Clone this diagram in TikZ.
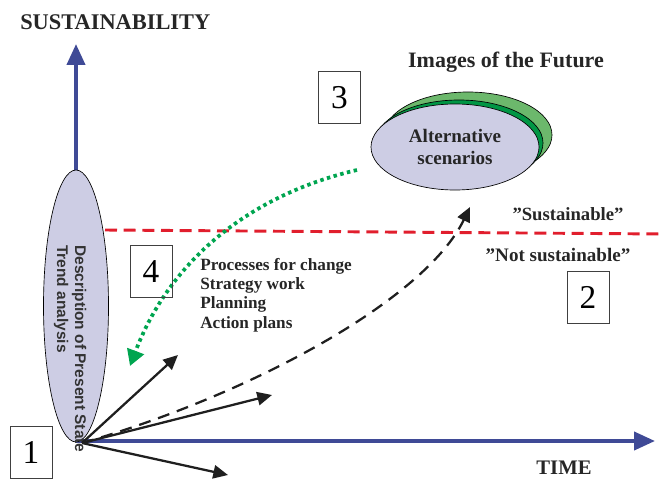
\documentclass[tikz,border=0pt]{standalone}
\usepackage{fontspec}
\setmainfont{Liberation Serif}
\newfontfamily\arialfont{Liberation Sans}
\usetikzlibrary{arrows.meta,shapes.geometric}
\definecolor{axisblue}{RGB}{63,74,150}
\definecolor{lavender}{RGB}{205,205,228}
\definecolor{dotgreen}{RGB}{0,165,80}
\definecolor{darkgreen}{RGB}{0,150,68}
\definecolor{lightgreen}{RGB}{108,184,108}
\definecolor{limitred}{RGB}{225,30,45}
\begin{document}
\begin{tikzpicture}[x=0.75pt,y=-0.75pt,
  numbox/.style={draw=black!75,line width=0.7pt,minimum width=31.5pt,minimum height=39pt,inner sep=0pt,font=\fontsize{25}{25}\selectfont},
  boldlbl/.style={inner sep=0pt,text=black!85,font=\bfseries\fontsize{14.3}{16.5}\selectfont},
  axis/.style={draw=axisblue,line width=3pt,-{Triangle[length=15.75pt,width=13.5pt]}},
  trend/.style={draw=black!88,line width=1.7pt,-{Triangle[length=11pt,width=10pt]}},
  scen/.style={ellipse,draw=black,line width=0.5pt,minimum width=126pt,minimum height=64.5pt,inner sep=0pt},
  vtext/.style={rotate=-90,anchor=west,inner sep=0pt,text=black!80,font=\arialfont\bfseries\fontsize{11.6}{13}\selectfont}]
\useasboundingbox (0,0) rectangle (663,481);
\coordinate (o) at (76,441);
\coordinate (ytip) at (76,44);
\coordinate (xtip) at (655,441);
\coordinate (src) at (82,443);
\coordinate (t1) at (178,355);
\coordinate (t2) at (272,395);
\coordinate (t3) at (228,475);
\coordinate (t4) at (470,207);
\coordinate (limL) at (105,230);
\coordinate (limR) at (663,234);
\coordinate (g0) at (357,170);
\coordinate (g1) at (130,366);
\draw[axis] (o) -- (ytip);
\draw[axis] (o) -- (xtip);
\node [ellipse, draw=black, line width=0.5pt, fill=lavender, minimum width=48.75pt, minimum height=204pt, inner sep=0pt] (present) at (76,306) {};
\node [vtext] (desc) at (79,245) {Description of Present State};
\node [vtext] (trend) at (61,245) {Trend analysis};
\draw[limitred, line width=2.2pt, dash pattern=on 9pt off 5pt] (limL) -- (limR);
\node [scen, fill=lightgreen] (backlight) at (468,135) {};
\node [scen, fill=darkgreen] (backdark) at (459,143) {};
\node [scen, fill=lavender, boldlbl, align=center] (scen) at (455,147) {Alternative\\scenarios};
\draw[dotgreen, line width=2.8pt, dash pattern=on 2.6pt off 2.6pt, -{Triangle[length=12pt,width=13pt]}] (g0) .. controls (250,195) and (170,260) .. (g1);
\draw[trend] (src) -- (t1);
\draw[trend] (src) -- (t2);
\draw[trend] (src) -- (t3);
\draw[trend, dash pattern=on 9pt off 6pt] (src) .. controls (250,395) and (425,300) .. (t4);
\node [boldlbl, anchor=west, font=\bfseries\fontsize{16.8}{18}\selectfont] (ylabel) at (20,22) {SUSTAINABILITY};
\node [boldlbl, font=\bfseries\fontsize{15.5}{18}\selectfont] (xlabel) at (564,468) {TIME};
\node [boldlbl, font=\bfseries\fontsize{16.5}{18}\selectfont] (future) at (506,62) {Images of the Future};
\node [boldlbl, font=\bfseries\fontsize{14}{16}\selectfont] (sust) at (568,214) {”Sustainable”};
\node [boldlbl, font=\bfseries\fontsize{14.3}{16}\selectfont] (notsust) at (558,255) {”Not sustainable”};
\node [boldlbl, anchor=west, align=left, font=\bfseries\fontsize{12.9}{14.6}\selectfont] (steps) at (200,295) {Processes for change\\Strategy work\\Planning\\Action plans};
\node [numbox] (box1) at (31,452) {1};
\node [numbox] (box2) at (588,297) {2};
\node [numbox] (box3) at (339.5,97.5) {3};
\node [numbox] (box4) at (151,271.5) {4};
\end{tikzpicture}
\end{document}
